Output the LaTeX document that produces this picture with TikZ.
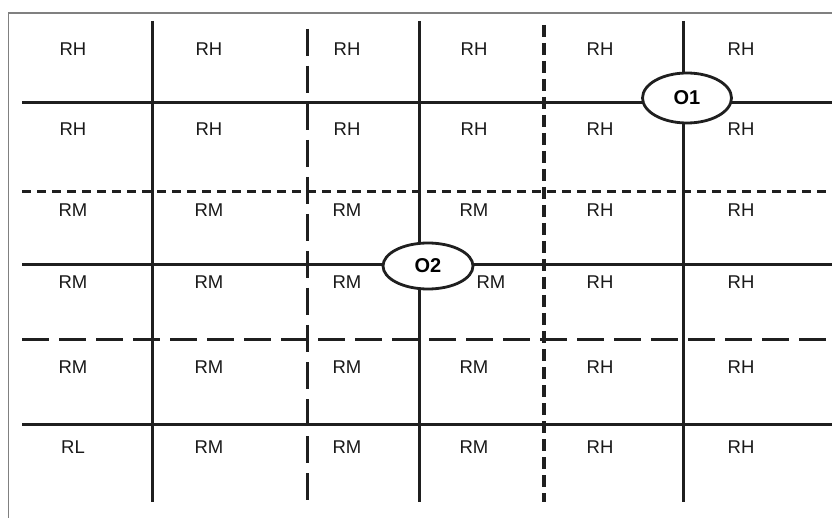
\documentclass[tikz,border=0pt]{standalone}
\usepackage{fontspec}
\setmainfont{Liberation Sans}
\usetikzlibrary{shapes.geometric}
\tikzset{
  lbl/.style={font=\fontsize{18.5}{22}\selectfont, text=black!90, inner sep=0pt},
  grid solid/.style={line width=3pt, draw=black!88},
  grid sdash/.style={line width=3pt, draw=black!88, dash pattern=on 9pt off 6pt},
  grid ldash/.style={line width=3pt, draw=black!88, dash pattern=on 27pt off 10pt},
  vsdash/.style={line width=3.1pt, draw=black!88, dash pattern=on 12pt off 6pt},
  oval/.style={ellipse, draw=black!88, line width=2.8pt, fill=white, inner sep=0pt,
    font=\bfseries\fontsize{20}{22}\selectfont}
}
\begin{document}
\begin{tikzpicture}[x=1pt,y=-1pt]
\useasboundingbox (0,0) rectangle (832,518);
\fill[white] (0,0) rectangle (832,518);
% frame
\draw[line width=1.8pt, draw=black!50] (8.5,520) -- (8.5,13) -- (834,13);
% horizontal lines
\coordinate (h1a) at (22,103); \coordinate (h1b) at (832,103);
\coordinate (h2a) at (22,192); \coordinate (h2b) at (832,192);
\coordinate (h3a) at (22,265); \coordinate (h3b) at (832,265);
\coordinate (h4a) at (22,339); \coordinate (h4b) at (832,339);
\coordinate (h5a) at (22,424); \coordinate (h5b) at (832,424);
\draw[grid solid] (h1a) -- (h1b);
\draw[grid sdash] (h2a) -- (h2b);
\draw[grid solid] (h3a) -- (h3b);
\draw[grid ldash] (h4a) -- (h4b);
\draw[grid solid] (h5a) -- (h5b);
% vertical lines
\coordinate (v1a) at (152,21); \coordinate (v1b) at (152,502);
\coordinate (v2a) at (307,29); \coordinate (v2b) at (307,502);
\coordinate (v3a) at (419,21); \coordinate (v3b) at (419,502);
\coordinate (v4a) at (544,25); \coordinate (v4b) at (544,502);
\coordinate (v5a) at (683,21); \coordinate (v5b) at (683,502);
\draw[grid solid] (v1a) -- (v1b);
\draw[grid ldash] (v2a) -- (v2b);
\draw[grid solid] (v3a) -- (v3b);
\draw[vsdash] (v4a) -- (v4b);
\draw[grid solid] (v5a) -- (v5b);
% ovals
\node[oval, minimum width=89pt, minimum height=50pt] (o1) at (687,98) {O1};
\node[oval, minimum width=90pt, minimum height=46pt] (o2) at (428,266) {O2};
% labels
\foreach \r/\y/\a/\b/\c/\d/\e/\f in {
  1/49/RH/RH/RH/RH/RH/RH,
  2/129/RH/RH/RH/RH/RH/RH,
  3/210/RM/RM/RM/RM/RH/RH,
  5/367/RM/RM/RM/RM/RH/RH,
  6/447/RL/RM/RM/RM/RH/RH}{
  \node[lbl] (l\r a) at (73,\y) {\a};
  \node[lbl] (l\r b) at (209,\y) {\b};
  \node[lbl] (l\r c) at (347,\y) {\c};
  \node[lbl] (l\r d) at (474,\y) {\d};
  \node[lbl] (l\r e) at (600,\y) {\e};
  \node[lbl] (l\r f) at (741,\y) {\f};
}
\node[lbl] (l4a) at (73,282) {RM};
\node[lbl] (l4b) at (209,282) {RM};
\node[lbl] (l4c) at (347,282) {RM};
\node[lbl] (l4d) at (491,282) {RM};
\node[lbl] (l4e) at (600,282) {RH};
\node[lbl] (l4f) at (741,282) {RH};
\end{tikzpicture}
\end{document}
